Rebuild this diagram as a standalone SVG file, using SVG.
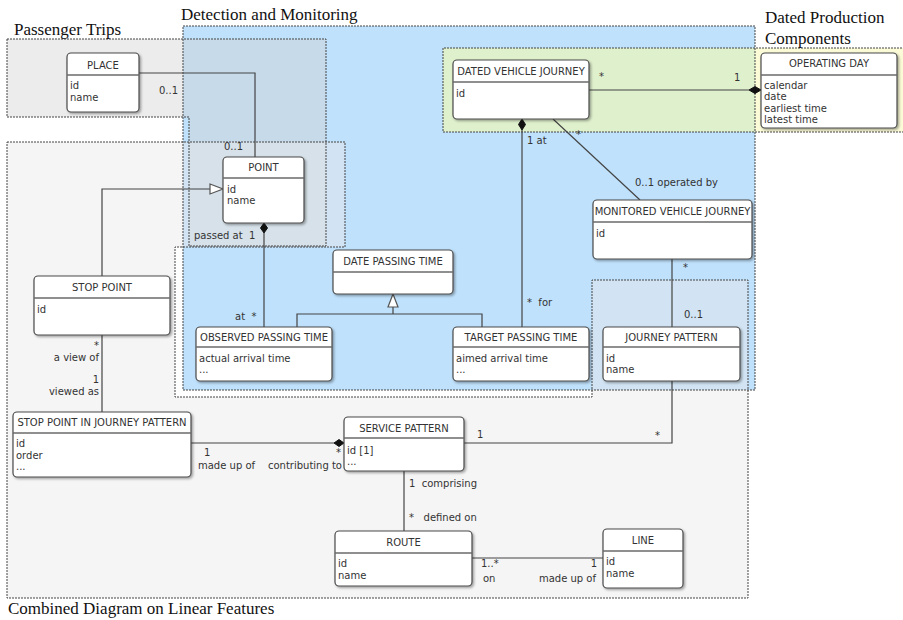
<svg xmlns="http://www.w3.org/2000/svg" width="903" height="620" viewBox="0 0 903 620">
  <defs>
    <filter id="sh" x="-10%" y="-10%" width="125%" height="130%">
      <feDropShadow dx="1.5" dy="1.5" stdDeviation="1" flood-color="#000" flood-opacity="0.35"/>
    </filter>
    <style>
      .nb { fill:#fff; stroke:#4a4a4a; stroke-width:1.2; filter:url(#sh); }
      .hd { stroke:#6a6a6a; stroke-width:1.6; }
      .t { font-family:"DejaVu Sans",sans-serif; font-size:10px; fill:#333; white-space:pre; }
      .tc { text-anchor:middle; }
      .te { text-anchor:end; }
      .reg { fill:none; stroke:#444; stroke-width:1; stroke-dasharray:2 1; }
      .ttl { font-family:"Liberation Serif",serif; font-size:17px; fill:#111; }
      .cn { fill:none; stroke:#444; stroke-width:1.2; }
      .dm { fill:#111; stroke:#111; stroke-width:1; }
      .gen { fill:#fff; stroke:#555; stroke-width:1.2; }
    </style>
  </defs>

  <!-- package areas -->
  <g id="packages">
    <rect x="183" y="26" width="572" height="364" fill="#bfe1fc"/>
    <rect x="443" y="48" width="312" height="84" fill="#dff0cd"/>
    <rect x="755" y="48" width="150" height="84" fill="#fbfbd8"/>
    <path d="M7,39 H326 V246 H189 V117 H7 Z" fill="#d2d2d2" fill-opacity="0.42"/>
    <path d="M7,142 H345 V247 H175 V397 H592 V280 H748 V598 H7 Z" fill="#e8e8e8" fill-opacity="0.45"/>
    <rect class="reg" x="183" y="26" width="572" height="364"/>
    <path class="reg" d="M905,48 H443 V132 H905"/>
    <path class="reg" d="M7,39 H326 V246 H189 V117 H7 Z"/>
    <path class="reg" d="M7,142 H345 V247 H175 V397 H592 V280 H748 V598 H7 Z"/>
  </g>

  <!-- associations and generalisations -->
  <g id="connectors">
    <polyline class="cn" points="139,73 255,73 255,157"/>
    <polyline class="cn" points="102,276 102,189 210,189"/>
    <polygon class="gen" points="210,184 223,189 210,194"/>
    <line class="cn" x1="264" y1="233" x2="264" y2="327"/>
    <polygon class="dm" points="264,223 267.5,228 264,233 260.5,228"/>
    <polyline class="cn" points="297,327 297,314 482,314 482,327"/>
    <line class="cn" x1="393" y1="314" x2="393" y2="307"/>
    <polygon class="gen" points="393,294 398,307 388,307"/>
    <line class="cn" x1="522" y1="130" x2="522" y2="327"/>
    <polygon class="dm" points="522,119 525.5,124.5 522,130 518.5,124.5"/>
    <line class="cn" x1="589" y1="90" x2="749" y2="90"/>
    <polygon class="dm" points="749,90 755,86.5 761,90 755,93.5"/>
    <line class="cn" x1="553" y1="119" x2="640" y2="200"/>
    <line class="cn" x1="672" y1="259" x2="672" y2="327"/>
    <polyline class="cn" points="672,381 672,443 464,443"/>
    <line class="cn" x1="191" y1="443" x2="334" y2="443"/>
    <polygon class="dm" points="334,443 339,439.5 344,443 339,446.5"/>
    <line class="cn" x1="404" y1="471" x2="404" y2="531"/>
    <line class="cn" x1="472" y1="558" x2="603" y2="558"/>
    <line class="cn" x1="102" y1="335" x2="102" y2="412"/>

    <text class="t" x="159" y="93.5">0..1</text>
    <text class="t" x="224" y="150">0..1</text>
    <text class="t" x="194" y="238.5">passed at  1</text>
    <text class="t" x="235" y="320">at  *</text>
    <text class="t" x="527" y="144">1 at</text>
    <text class="t" x="527" y="306">*  for</text>
    <text class="t" x="599" y="80">*</text>
    <text class="t" x="734" y="81">1</text>
    <text class="t" x="576" y="138">*</text>
    <text class="t" x="635" y="186">0..1 operated by</text>
    <text class="t" x="683" y="271">*</text>
    <text class="t" x="684" y="318">0..1</text>
    <text class="t" x="477" y="438">1</text>
    <text class="t" x="655" y="439">*</text>
    <text class="t" x="204" y="456">1</text>
    <text class="t" x="198" y="469">made up of</text>
    <text class="t te" x="341" y="456">*</text>
    <text class="t te" x="342" y="469">contributing to</text>
    <text class="t" x="409" y="487">1  comprising</text>
    <text class="t" x="409" y="521">*   defined on</text>
    <text class="t" x="481" y="567">1..*</text>
    <text class="t" x="483" y="582">on</text>
    <text class="t te" x="597" y="567">1</text>
    <text class="t te" x="596" y="582">made up of</text>
    <text class="t te" x="99" y="349">*</text>
    <text class="t te" x="99" y="360.5">a view of</text>
    <text class="t te" x="99" y="383">1</text>
    <text class="t te" x="99" y="395">viewed as</text>
  </g>

  <g id="place">
    <rect class="nb" x="67" y="53" width="72" height="59" rx="4"/>
    <line class="hd" x1="67" y1="75" x2="139" y2="75"/>
    <text class="t tc" x="103" y="68.5">PLACE</text>
    <text class="t" x="70" y="88.5">id</text>
    <text class="t" x="70" y="100.5">name</text>
  </g>

  <g id="point">
    <rect class="nb" x="223" y="157" width="81" height="66" rx="4"/>
    <line class="hd" x1="223" y1="178" x2="304" y2="178"/>
    <text class="t tc" x="263.5" y="171">POINT</text>
    <text class="t" x="227" y="192.5">id</text>
    <text class="t" x="227" y="203.5">name</text>
  </g>

  <g id="stop-point">
    <rect class="nb" x="34" y="276" width="136" height="59" rx="4"/>
    <line class="hd" x1="34" y1="298" x2="170" y2="298"/>
    <text class="t tc" x="102" y="291">STOP POINT</text>
    <text class="t" x="37" y="312.5">id</text>
  </g>

  <g id="date-passing-time">
    <rect class="nb" x="333" y="250" width="120" height="44" rx="4"/>
    <line class="hd" x1="333" y1="272" x2="453" y2="272"/>
    <text class="t tc" x="393" y="265">DATE PASSING TIME</text>
  </g>

  <g id="observed-passing-time">
    <rect class="nb" x="196" y="327" width="136" height="54" rx="4"/>
    <line class="hd" x1="196" y1="347" x2="332" y2="347"/>
    <text class="t tc" x="264" y="341">OBSERVED PASSING TIME</text>
    <text class="t" x="199" y="361.5">actual arrival time</text>
    <text class="t" x="199" y="373">...</text>
  </g>

  <g id="target-passing-time">
    <rect class="nb" x="453" y="327" width="136" height="54" rx="4"/>
    <line class="hd" x1="453" y1="347" x2="589" y2="347"/>
    <text class="t tc" x="521" y="341">TARGET PASSING TIME</text>
    <text class="t" x="456" y="361.5">aimed arrival time</text>
    <text class="t" x="456" y="373">...</text>
  </g>

  <g id="dated-vehicle-journey">
    <rect class="nb" x="453" y="60" width="136" height="59" rx="4"/>
    <line class="hd" x1="453" y1="82" x2="589" y2="82"/>
    <text class="t tc" x="521" y="75">DATED VEHICLE JOURNEY</text>
    <text class="t" x="456" y="96.5">id</text>
  </g>

  <g id="operating-day">
    <rect class="nb" x="761" y="53" width="136" height="75" rx="4"/>
    <line class="hd" x1="761" y1="75" x2="897" y2="75"/>
    <text class="t tc" x="829" y="67">OPERATING DAY</text>
    <text class="t" x="764" y="88.5">calendar</text>
    <text class="t" x="764" y="100">date</text>
    <text class="t" x="764" y="111.5">earliest time</text>
    <text class="t" x="764" y="123">latest time</text>
  </g>

  <g id="monitored-vehicle-journey">
    <rect class="nb" x="593" y="200" width="159" height="59" rx="4"/>
    <line class="hd" x1="593" y1="222" x2="752" y2="222"/>
    <text class="t tc" x="672.5" y="215">MONITORED VEHICLE JOURNEY</text>
    <text class="t" x="596" y="236.5">id</text>
  </g>

  <g id="journey-pattern">
    <rect class="nb" x="603" y="327" width="137" height="54" rx="4"/>
    <line class="hd" x1="603" y1="347" x2="740" y2="347"/>
    <text class="t tc" x="671.5" y="341">JOURNEY PATTERN</text>
    <text class="t" x="606" y="361.5">id</text>
    <text class="t" x="606" y="373">name</text>
  </g>

  <g id="stop-point-in-journey-pattern">
    <rect class="nb" x="13" y="412" width="178" height="65" rx="4"/>
    <line class="hd" x1="13" y1="433" x2="191" y2="433"/>
    <text class="t tc" x="102" y="426">STOP POINT IN JOURNEY PATTERN</text>
    <text class="t" x="16" y="446.5">id</text>
    <text class="t" x="16" y="458.5">order</text>
    <text class="t" x="16" y="470">...</text>
  </g>

  <g id="service-pattern">
    <rect class="nb" x="344" y="417" width="120" height="54" rx="4"/>
    <line class="hd" x1="344" y1="438" x2="464" y2="438"/>
    <text class="t tc" x="404" y="432">SERVICE PATTERN</text>
    <text class="t" x="347" y="453.5">id [1]</text>
    <text class="t" x="347" y="465">...</text>
  </g>

  <g id="route">
    <rect class="nb" x="335" y="531" width="137" height="55" rx="4"/>
    <line class="hd" x1="335" y1="553" x2="472" y2="553"/>
    <text class="t tc" x="403.5" y="546">ROUTE</text>
    <text class="t" x="338" y="566.5">id</text>
    <text class="t" x="338" y="578.5">name</text>
  </g>

  <g id="line">
    <rect class="nb" x="603" y="529" width="80" height="59" rx="4"/>
    <line class="hd" x1="603" y1="551" x2="683" y2="551"/>
    <text class="t tc" x="643" y="544">LINE</text>
    <text class="t" x="606" y="564.5">id</text>
    <text class="t" x="606" y="576.5">name</text>
  </g>

  <!-- package titles -->
  <g id="titles">
    <text class="ttl" x="14" y="35">Passenger Trips</text>
    <text class="ttl" x="181" y="20">Detection and Monitoring</text>
    <text class="ttl" x="765" y="23">Dated Production</text>
    <text class="ttl" x="765" y="44">Components</text>
    <text class="ttl" x="8" y="614">Combined Diagram on Linear Features</text>
  </g>
</svg>
